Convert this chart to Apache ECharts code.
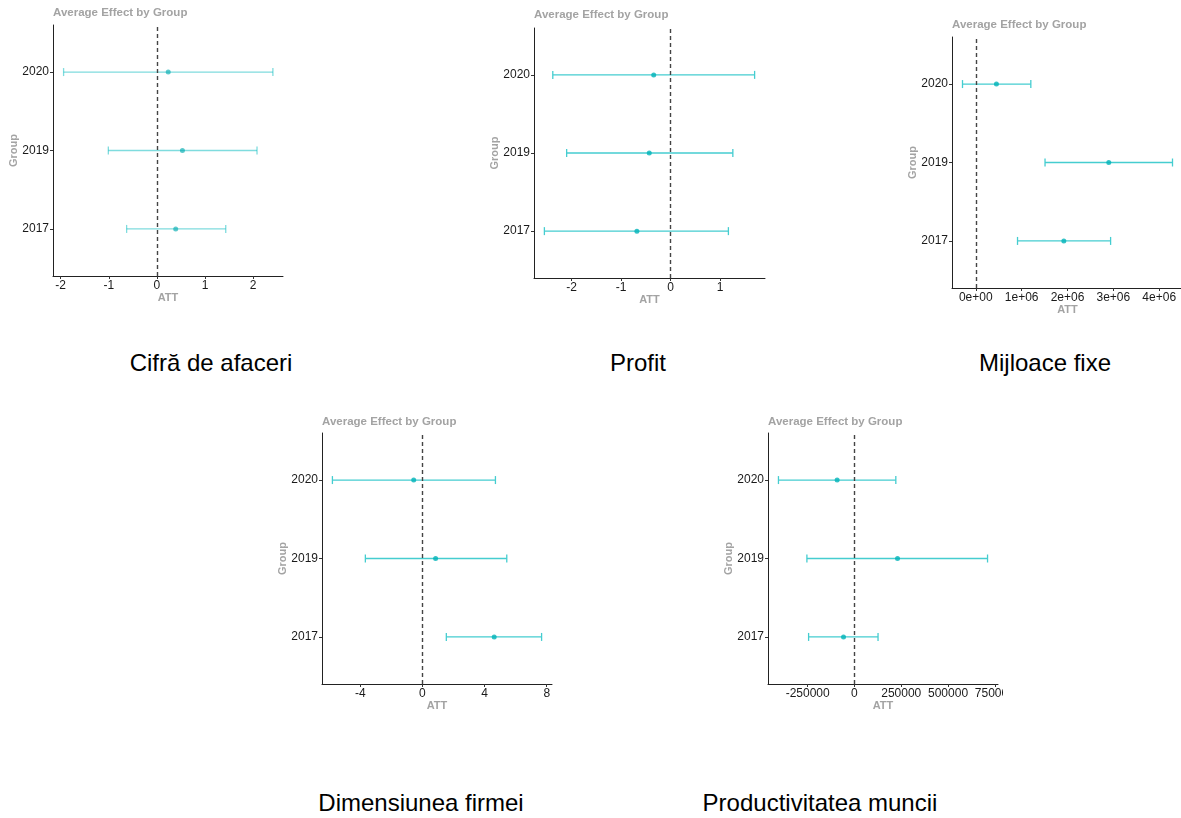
<!DOCTYPE html>
<html>
<head>
<meta charset="utf-8">
<script src="https://cdn.jsdelivr.net/npm/echarts@6/dist/echarts.min.js"></script>
<style>
    body { margin: 0; background: #fff; width: 1181px; height: 818px; position: relative; overflow: hidden; font-family: 'Liberation Sans', Arial, sans-serif; }
    .panel { position: absolute; overflow: hidden; }
    .caption { position: absolute; font-size: 24px; line-height: 24px; color: #000; white-space: nowrap; transform: translateX(-50%); }
</style>
</head>
<body>
<div id="p1" class="panel" style="left:0;top:0;width:300px;height:330px"></div>
<div id="p2" class="panel" style="left:480px;top:0;width:300px;height:330px"></div>
<div id="p3" class="panel" style="left:890px;top:0;width:291px;height:330px"></div>
<div id="p4" class="panel" style="left:260px;top:400px;width:300px;height:330px"></div>
<div id="p5" class="panel" style="left:700px;top:400px;width:303px;height:330px"></div>

<div class="caption" style="left:211px;top:351px">Cifră de afaceri</div>
<div class="caption" style="left:638px;top:351px">Profit</div>
<div class="caption" style="left:1045px;top:351px">Mijloace fixe</div>
<div class="caption" style="left:421px;top:791px">Dimensiunea firmei</div>
<div class="caption" style="left:820px;top:791px">Productivitatea muncii</div>

<script>
// groups, bottom to top
const groups = ['2017', '2019', '2020'];
const groupPos = [1, 2, 3];

// Cifră de afaceri
const cifraEst = [0.39, 0.53, 0.235];
const cifraLow = [-0.63, -1.01, -1.94];
const cifraHigh = [1.43, 2.08, 2.41];
const cifraTicks = [-2, -1, 0, 1, 2];
const cifraTickLabels = ['-2', '-1', '0', '1', '2'];

// Profit
const profitEst = [-0.68, -0.43, -0.34];
const profitLow = [-2.55, -2.10, -2.38];
const profitHigh = [1.17, 1.26, 1.70];
const profitTicks = [-2, -1, 0, 1];
const profitTickLabels = ['-2', '-1', '0', '1'];

// Mijloace fixe
const mijloaceEst = [1920000, 2900000, 450000];
const mijloaceLow = [910000, 1510000, -290000];
const mijloaceHigh = [2940000, 4290000, 1200000];
const mijloaceTicks = [0, 1000000, 2000000, 3000000, 4000000];
const mijloaceTickLabels = ['0e+00', '1e+06', '2e+06', '3e+06', '4e+06'];

// Dimensiunea firmei
const dimEst = [4.62, 0.85, -0.56];
const dimLow = [1.54, -3.67, -5.79];
const dimHigh = [7.67, 5.43, 4.70];
const dimTicks = [-4, 0, 4, 8];
const dimTickLabels = ['-4', '0', '4', '8'];

// Productivitatea muncii
const prodEst = [-58500, 230000, -92500];
const prodLow = [-245000, -254000, -406000];
const prodHigh = [126000, 711000, 221000];
const prodTicks = [-250000, 0, 250000, 500000, 750000];
const prodTickLabels = ['-250000', '0', '250000', '500000', '750000'];

const FONT = "'Liberation Sans', Arial, sans-serif";
const GREY = '#a3a3a3';

function makePanel(id, cfg) {
    const chart = echarts.init(document.getElementById(id));
    const bars = groups.map((g, i) => [cfg.low[i], cfg.high[i], groupPos[i]]);
    const points = groups.map((g, i) => [cfg.est[i], groupPos[i]]);
    const lineStyle = { stroke: cfg.barColor, lineWidth: 1.3, fill: null };

    chart.setOption({
        animation: false,
        title: {
            text: 'Average Effect by Group', left: cfg.grid.left, top: cfg.titleTop, padding: 0,
            textStyle: { color: GREY, fontWeight: 'bold', fontSize: 11.5, fontFamily: FONT }
        },
        grid: Object.assign({ outerBoundsMode: 'none', containLabel: false }, cfg.grid),
        xAxis: {
            type: 'value', min: cfg.min, max: cfg.max,
            name: 'ATT', nameLocation: 'middle', nameGap: 16, nameMoveOverlap: false,
            nameTextStyle: { color: GREY, fontWeight: 'bold', fontSize: 11, fontFamily: FONT },
            axisLine: { show: true, onZero: false, lineStyle: { color: '#222', width: 1 } },
            axisTick: { show: true, length: 3, customValues: cfg.ticks, lineStyle: { color: '#333' } },
            axisLabel: {
                customValues: cfg.ticks, margin: 4, color: '#1a1a1a', fontSize: 12, fontFamily: FONT,
                formatter: v => cfg.tickLabels[cfg.ticks.indexOf(v)]
            },
            splitLine: { show: false }
        },
        yAxis: {
            type: 'value', min: 0.4, max: 3.6,
            name: 'Group', nameLocation: 'middle', nameGap: 34, nameMoveOverlap: false,
            nameTextStyle: { color: GREY, fontWeight: 'bold', fontSize: 11, fontFamily: FONT },
            axisLine: { show: true, onZero: false, lineStyle: { color: '#222', width: 1 } },
            axisTick: { show: true, length: 3, customValues: groupPos, lineStyle: { color: '#333' } },
            axisLabel: {
                customValues: groupPos, margin: 4, color: '#1a1a1a', fontSize: 12, fontFamily: FONT,
                formatter: v => groups[groupPos.indexOf(v)]
            },
            splitLine: { show: false }
        },
        series: [
            {
                type: 'custom', data: bars, encode: { x: [0, 1], y: 2 },
                renderItem: (params, api) => {
                    const y = api.value(2);
                    const a = api.coord([api.value(0), y]);
                    const b = api.coord([api.value(1), y]);
                    const h = 4;
                    return {
                        type: 'group', children: [
                            { type: 'line', shape: { x1: a[0], y1: a[1], x2: b[0], y2: b[1] }, style: lineStyle },
                            { type: 'line', shape: { x1: a[0], y1: a[1] - h, x2: a[0], y2: a[1] + h }, style: lineStyle },
                            { type: 'line', shape: { x1: b[0], y1: b[1] - h, x2: b[0], y2: b[1] + h }, style: lineStyle }
                        ]
                    };
                }
            },
            {
                type: 'scatter', data: points, symbolSize: 5,
                itemStyle: { color: cfg.pointColor },
                markLine: {
                    silent: true, symbol: ['none', 'none'], label: { show: false },
                    lineStyle: { type: [4, 3], color: '#444', width: 1.4 },
                    data: [{ xAxis: 0 }]
                }
            }
        ]
    });
}

makePanel('p1', {
    est: cifraEst, low: cifraLow, high: cifraHigh, ticks: cifraTicks, tickLabels: cifraTickLabels,
    min: -2.16, max: 2.62, titleTop: 7,
    grid: { left: 53, top: 25, width: 230, height: 251 },
    barColor: 'rgba(0,185,190,0.5)', pointColor: 'rgba(0,170,175,0.8)'
});
makePanel('p2', {
    est: profitEst, low: profitLow, high: profitHigh, ticks: profitTicks, tickLabels: profitTickLabels,
    min: -2.76, max: 1.91, titleTop: 9,
    grid: { left: 54, top: 28, width: 231, height: 250 },
    barColor: '#45cdd0', pointColor: '#00b3b8'
});
makePanel('p3', {
    est: mijloaceEst, low: mijloaceLow, high: mijloaceHigh, ticks: mijloaceTicks, tickLabels: mijloaceTickLabels,
    min: -519000, max: 4519000, titleTop: 19,
    grid: { left: 62, top: 37, width: 231, height: 251 },
    barColor: '#45cdd0', pointColor: '#00b3b8'
});
makePanel('p4', {
    est: dimEst, low: dimLow, high: dimHigh, ticks: dimTicks, tickLabels: dimTickLabels,
    min: -6.46, max: 8.34, titleTop: 16,
    grid: { left: 62, top: 33, width: 230, height: 251 },
    barColor: '#45cdd0', pointColor: '#00b3b8'
});
makePanel('p5', {
    est: prodEst, low: prodLow, high: prodHigh, ticks: prodTicks, tickLabels: prodTickLabels,
    min: -461850, max: 766850, titleTop: 16,
    grid: { left: 68, top: 33, width: 230, height: 251 },
    barColor: '#45cdd0', pointColor: '#00b3b8'
});
</script>
</body>
</html>
